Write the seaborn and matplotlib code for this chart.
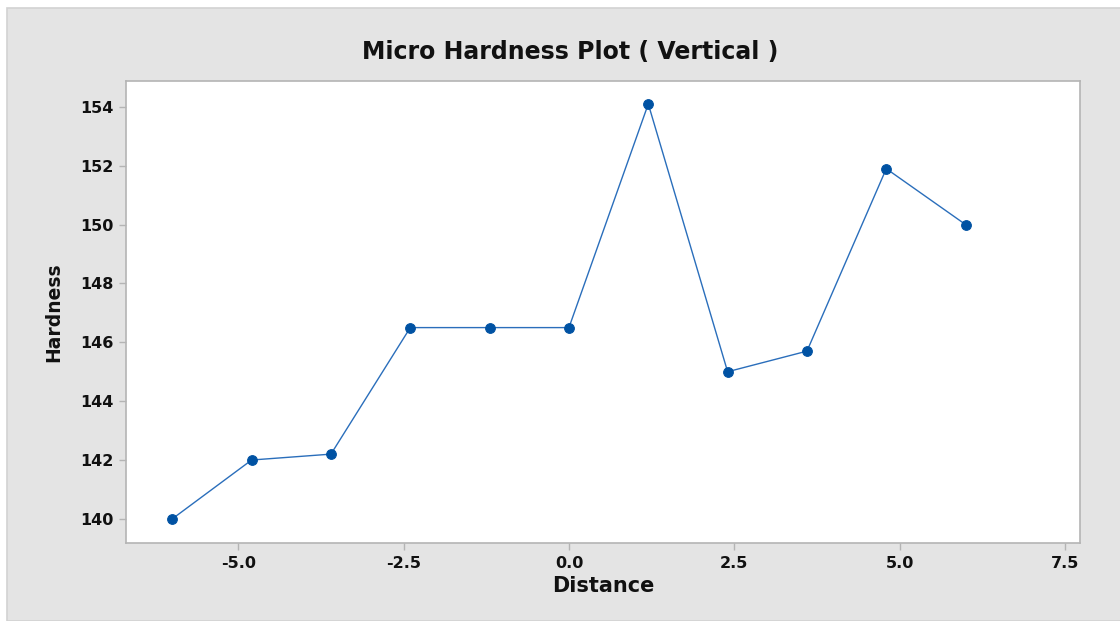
import pandas as pd
import matplotlib
matplotlib.use('Agg')
import matplotlib.pyplot as plt
import seaborn as sns
from matplotlib.patches import Rectangle

# Values
distance = [-6.0, -4.8, -3.6, -2.4, -1.2, 0.0, 1.2, 2.4, 3.6, 4.8, 6.0]
hardness = [140.0, 142.0, 142.2, 146.5, 146.5, 146.5, 154.1, 145.0, 145.7, 151.9, 150.0]
x_ticks = [-5.0, -2.5, 0.0, 2.5, 5.0, 7.5]
y_ticks = [140, 142, 144, 146, 148, 150, 152, 154]

df = pd.DataFrame({'Distance': distance, 'Hardness': hardness})

sns.set_theme(style='white')
plt.rcParams['font.family'] = ['DejaVu Sans']

fig = plt.figure(figsize=(11.2, 6.21), dpi=100, facecolor='white')
# gray panel behind the plot
fig.patches.append(Rectangle((7 / 1120, 0), 1, (621 - 8) / 621, transform=fig.transFigure,
                             facecolor='#e4e4e4', edgecolor='#d2d2d2', linewidth=1.2, zorder=-10))

ax = fig.add_axes([126 / 1120, 78 / 621, (1080 - 126) / 1120, (543 - 81) / 621])
ax.set_zorder(5)
ax.set_facecolor('white')

sns.lineplot(data=df, x='Distance', y='Hardness', ax=ax, color='#2a6ebb', linewidth=1.0,
             marker='o', markersize=7, markerfacecolor='#0052a3', markeredgecolor='#0052a3')

ax.set_xlim(-6.70, 7.73)
ax.set_ylim(139.18, 154.88)
ax.set_xticks(x_ticks)
ax.set_xticklabels([f'{t:.1f}' for t in x_ticks])
ax.set_yticks(y_ticks)

for s in ax.spines.values():
    s.set_color('#b4b4b4')
    s.set_linewidth(1.2)
ax.tick_params(axis='both', direction='out', length=5, width=1, color='#b4b4b4',
               labelsize=11.5, labelcolor='#111111', pad=4, bottom=True, left=True)
for lab in ax.get_xticklabels() + ax.get_yticklabels():
    lab.set_fontweight('bold')

ax.set_xlabel('Distance', fontsize=15, fontweight='bold', color='#111111', labelpad=4)
ax.set_ylabel('Hardness', fontsize=13.5, fontweight='bold', color='#111111', labelpad=12)
fig.text(570 / 1120, 1 - 52 / 621, 'Micro Hardness Plot ( Vertical )', ha='center', va='center',
         fontsize=17, fontweight='bold', color='#111111')

fig.savefig('out.png', dpi=100, facecolor=fig.get_facecolor())
